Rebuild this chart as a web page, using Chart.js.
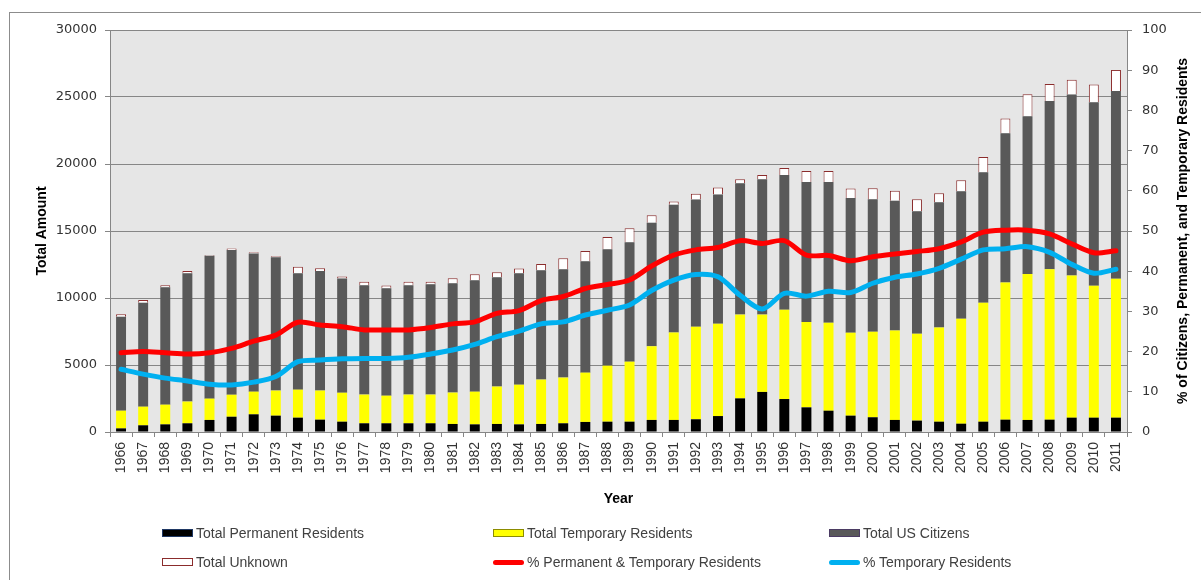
<!DOCTYPE html>
<html>
<head>
<meta charset="utf-8">
<title>Total Amount by Year</title>
<script src="https://cdn.jsdelivr.net/npm/chart.js@4.4.1/dist/chart.umd.min.js"></script>
<style>
html, body { margin: 0; padding: 0; width: 1201px; height: 580px; overflow: hidden; background: #fff; }
#frame { position: absolute; left: 9px; top: 12px; width: 1200px; height: 580px; border: 1px solid #8c8c8c; box-sizing: border-box; }
#wrap { position: absolute; left: 0; top: 0; width: 1201px; height: 580px; }
.legend-item { position: absolute; display: flex; align-items: center; height: 16px; font: 14px "Liberation Sans", Arial, sans-serif; color: #404040; white-space: nowrap; }
.swatch { width: 31px; height: 8px; box-sizing: border-box; margin-right: 3px; border: 1px solid; }
.line-swatch { width: 31px; height: 5px; border-radius: 3px; margin-right: 3px; }
</style>
</head>
<body>
<div id="frame"></div>
<div id="wrap"><canvas id="chart" width="1201" height="580"></canvas></div>
<div id="legend"></div>
<script>
// values
const years = ['1966','1967','1968','1969','1970','1971','1972','1973','1974','1975','1976','1977','1978','1979','1980',
  '1981','1982','1983','1984','1985','1986','1987','1988','1989','1990','1991','1992','1993','1994','1995','1996',
  '1997','1998','1999','2000','2001','2002','2003','2004','2005','2006','2007','2008','2009','2010','2011'];

const permanentResidents = [270,500,570,650,900,1140,1320,1220,1070,920,770,650,650,650,650,
  600,570,600,570,600,650,750,770,770,900,900,950,1190,2510,2990,2460,
  1840,1590,1220,1100,900,850,770,620,770,920,900,920,1070,1070,1070];

const temporaryResidents = [1320,1390,1470,1620,1590,1640,1690,1870,2090,2170,2160,2140,2060,2140,2140,
  2340,2440,2790,2960,3310,3410,3680,4180,4480,5500,6520,6910,6890,6250,5770,6670,
  6370,6570,6190,6390,6670,6490,7020,7840,8880,10230,10900,11220,10600,9850,10370];

const usCitizens = [7020,7760,8760,9580,10670,10800,10320,9950,8680,8930,8530,8160,8010,8160,8230,
  8160,8310,8160,8310,8160,8090,8310,8680,8910,9210,9530,9500,9650,9800,10100,10050,
  10450,10500,10050,9880,9680,9130,9350,9500,9730,11140,11770,12560,13510,13680,14010];

const unknown = [170,200,150,170,50,120,80,80,500,200,150,270,220,270,200,
  370,450,370,370,470,820,770,920,1050,570,250,420,520,300,320,520,
  820,820,720,820,750,900,670,820,1140,1100,1640,1270,1100,1340,1570];

const pctPermTemp = [19.7,20.0,19.7,19.4,19.7,20.8,22.6,24.1,27.3,26.6,26.2,25.4,25.4,25.4,26.0,
  26.9,27.4,29.5,30.2,32.7,33.7,35.7,36.7,37.8,41.3,44.0,45.3,45.9,47.6,46.9,47.6,
  44.0,43.9,42.6,43.6,44.3,44.9,45.6,47.3,49.7,50.2,50.2,49.3,46.8,44.6,45.1];

const pctTemp = [15.6,14.4,13.4,12.7,11.9,11.7,12.4,13.8,17.5,17.9,18.2,18.3,18.3,18.6,19.4,
  20.4,21.8,23.7,25.1,26.9,27.4,29.1,30.3,31.6,35.2,37.8,39.2,38.6,34.0,30.6,34.5,
  33.8,35.0,34.7,37.0,38.5,39.3,40.7,43.0,45.3,45.6,46.1,44.7,41.7,39.5,40.5];

const leftTitle = 'Total Amount';
const rightTitle = '% of Citizens, Permanent, and Temporary Residents';

const axisGray = '#868686';
const tickFont = { family: 'DejaVu Sans', size: 13 };

const plotBackground = {
  id: 'plotBackground',
  beforeDraw(chart) {
    const { ctx, chartArea: a } = chart;
    ctx.save();
    ctx.fillStyle = '#e6e6e6';
    ctx.fillRect(a.left, a.top, a.width, a.height);
    ctx.restore();
  }
};

// right axis title reads bottom-to-top like the original
const rightAxisTitle = {
  id: 'rightAxisTitle',
  afterDraw(chart) {
    const { ctx, chartArea } = chart;
    const s = chart.scales.y1;
    ctx.save();
    ctx.translate(s.left + 56, (chartArea.top + chartArea.bottom) / 2);
    ctx.rotate(-Math.PI / 2);
    ctx.font = 'bold 14px "Liberation Sans"';
    ctx.fillStyle = '#000';
    ctx.textAlign = 'center';
    ctx.textBaseline = 'middle';
    ctx.fillText(rightTitle, 0, 0);
    ctx.restore();
  }
};

function barSet(label, data, fill, border, width) {
  return {
    type: 'bar', label: label, data: data, yAxisID: 'y', order: 2,
    backgroundColor: fill, borderColor: border, borderWidth: width,
    barPercentage: 0.45, categoryPercentage: 1.0
  };
}

function lineSet(label, data, color) {
  return {
    type: 'line', label: label, data: data, yAxisID: 'y1', order: 0,
    borderColor: color, backgroundColor: color, borderWidth: 5,
    pointRadius: 0, tension: 0.3, borderCapStyle: 'round', fill: false
  };
}

const chart = new Chart(document.getElementById('chart'), {
  data: {
    labels: years,
    datasets: [
      barSet('Total Permanent Residents', permanentResidents, '#000000', '#1f3864', 0),
      barSet('Total Temporary Residents', temporaryResidents, '#ffff00', '#8c8c00', 0),
      barSet('Total US Citizens', usCitizens, '#595959', '#4b3b63', 0),
      barSet('Total Unknown', unknown, '#ffffff', '#8b2c2c', 1),
      lineSet('% Permanent & Temporary Residents', pctPermTemp, '#ff0000'),
      lineSet('% Temporary Residents', pctTemp, '#00b0f0')
    ]
  },
  options: {
    responsive: false,
    animation: false,
    layout: { padding: { top: 30, left: 0, right: 0, bottom: 0 } },
    plugins: {
      legend: { display: false },
      tooltip: { enabled: false }
    },
    scales: {
      x: {
        stacked: true,
        grid: { drawOnChartArea: false, color: axisGray, tickLength: 5, offset: true },
        border: { color: axisGray },
        ticks: { minRotation: 90, maxRotation: 90, autoSkip: false, padding: 5, color: '#333',
                 font: { family: 'Liberation Sans', size: 14 } },
        title: { display: true, text: 'Year', color: '#000',
                 font: { family: 'Liberation Sans', size: 14, weight: 'bold' },
                 padding: { top: 0, bottom: 72 } },
        afterFit(s) { s.height = 148; }
      },
      y: {
        stacked: true,
        min: 0, max: 30000,
        grid: { color: axisGray, tickLength: 5 },
        border: { color: axisGray },
        ticks: { stepSize: 5000, padding: 8, color: '#333', font: tickFont,
                 callback: (value) => String(value) },
        title: { display: true, text: leftTitle, color: '#000',
                 font: { family: 'Liberation Sans', size: 14, weight: 'bold' },
                 padding: { top: 34, bottom: 0 } },
        afterFit(s) { s.width = 110; }
      },
      y1: {
        position: 'right',
        min: 0, max: 100,
        grid: { drawOnChartArea: false, color: axisGray, tickLength: 5 },
        border: { color: axisGray },
        ticks: { stepSize: 10, padding: 10, color: '#333', font: tickFont },
        afterFit(s) { s.width = 74; }
      }
    }
  },
  plugins: [plotBackground, rightAxisTitle]
});

// html legend in a 3 x 2 grid like the original
const legendSlots = [[162, 525], [493, 525], [829, 525], [162, 554], [493, 554], [829, 554]];
const legendEl = document.getElementById('legend');
chart.data.datasets.forEach((ds, i) => {
  const item = document.createElement('div');
  item.className = 'legend-item';
  item.style.left = legendSlots[i][0] + 'px';
  item.style.top = legendSlots[i][1] + 'px';
  const mark = document.createElement('span');
  if (ds.type === 'line') {
    mark.className = 'line-swatch';
    mark.style.background = ds.borderColor;
  } else {
    mark.className = 'swatch';
    mark.style.background = ds.backgroundColor;
    mark.style.borderColor = ds.borderColor;
  }
  const text = document.createElement('span');
  text.textContent = ds.label;
  item.appendChild(mark);
  item.appendChild(text);
  legendEl.appendChild(item);
});
</script>
</body>
</html>
